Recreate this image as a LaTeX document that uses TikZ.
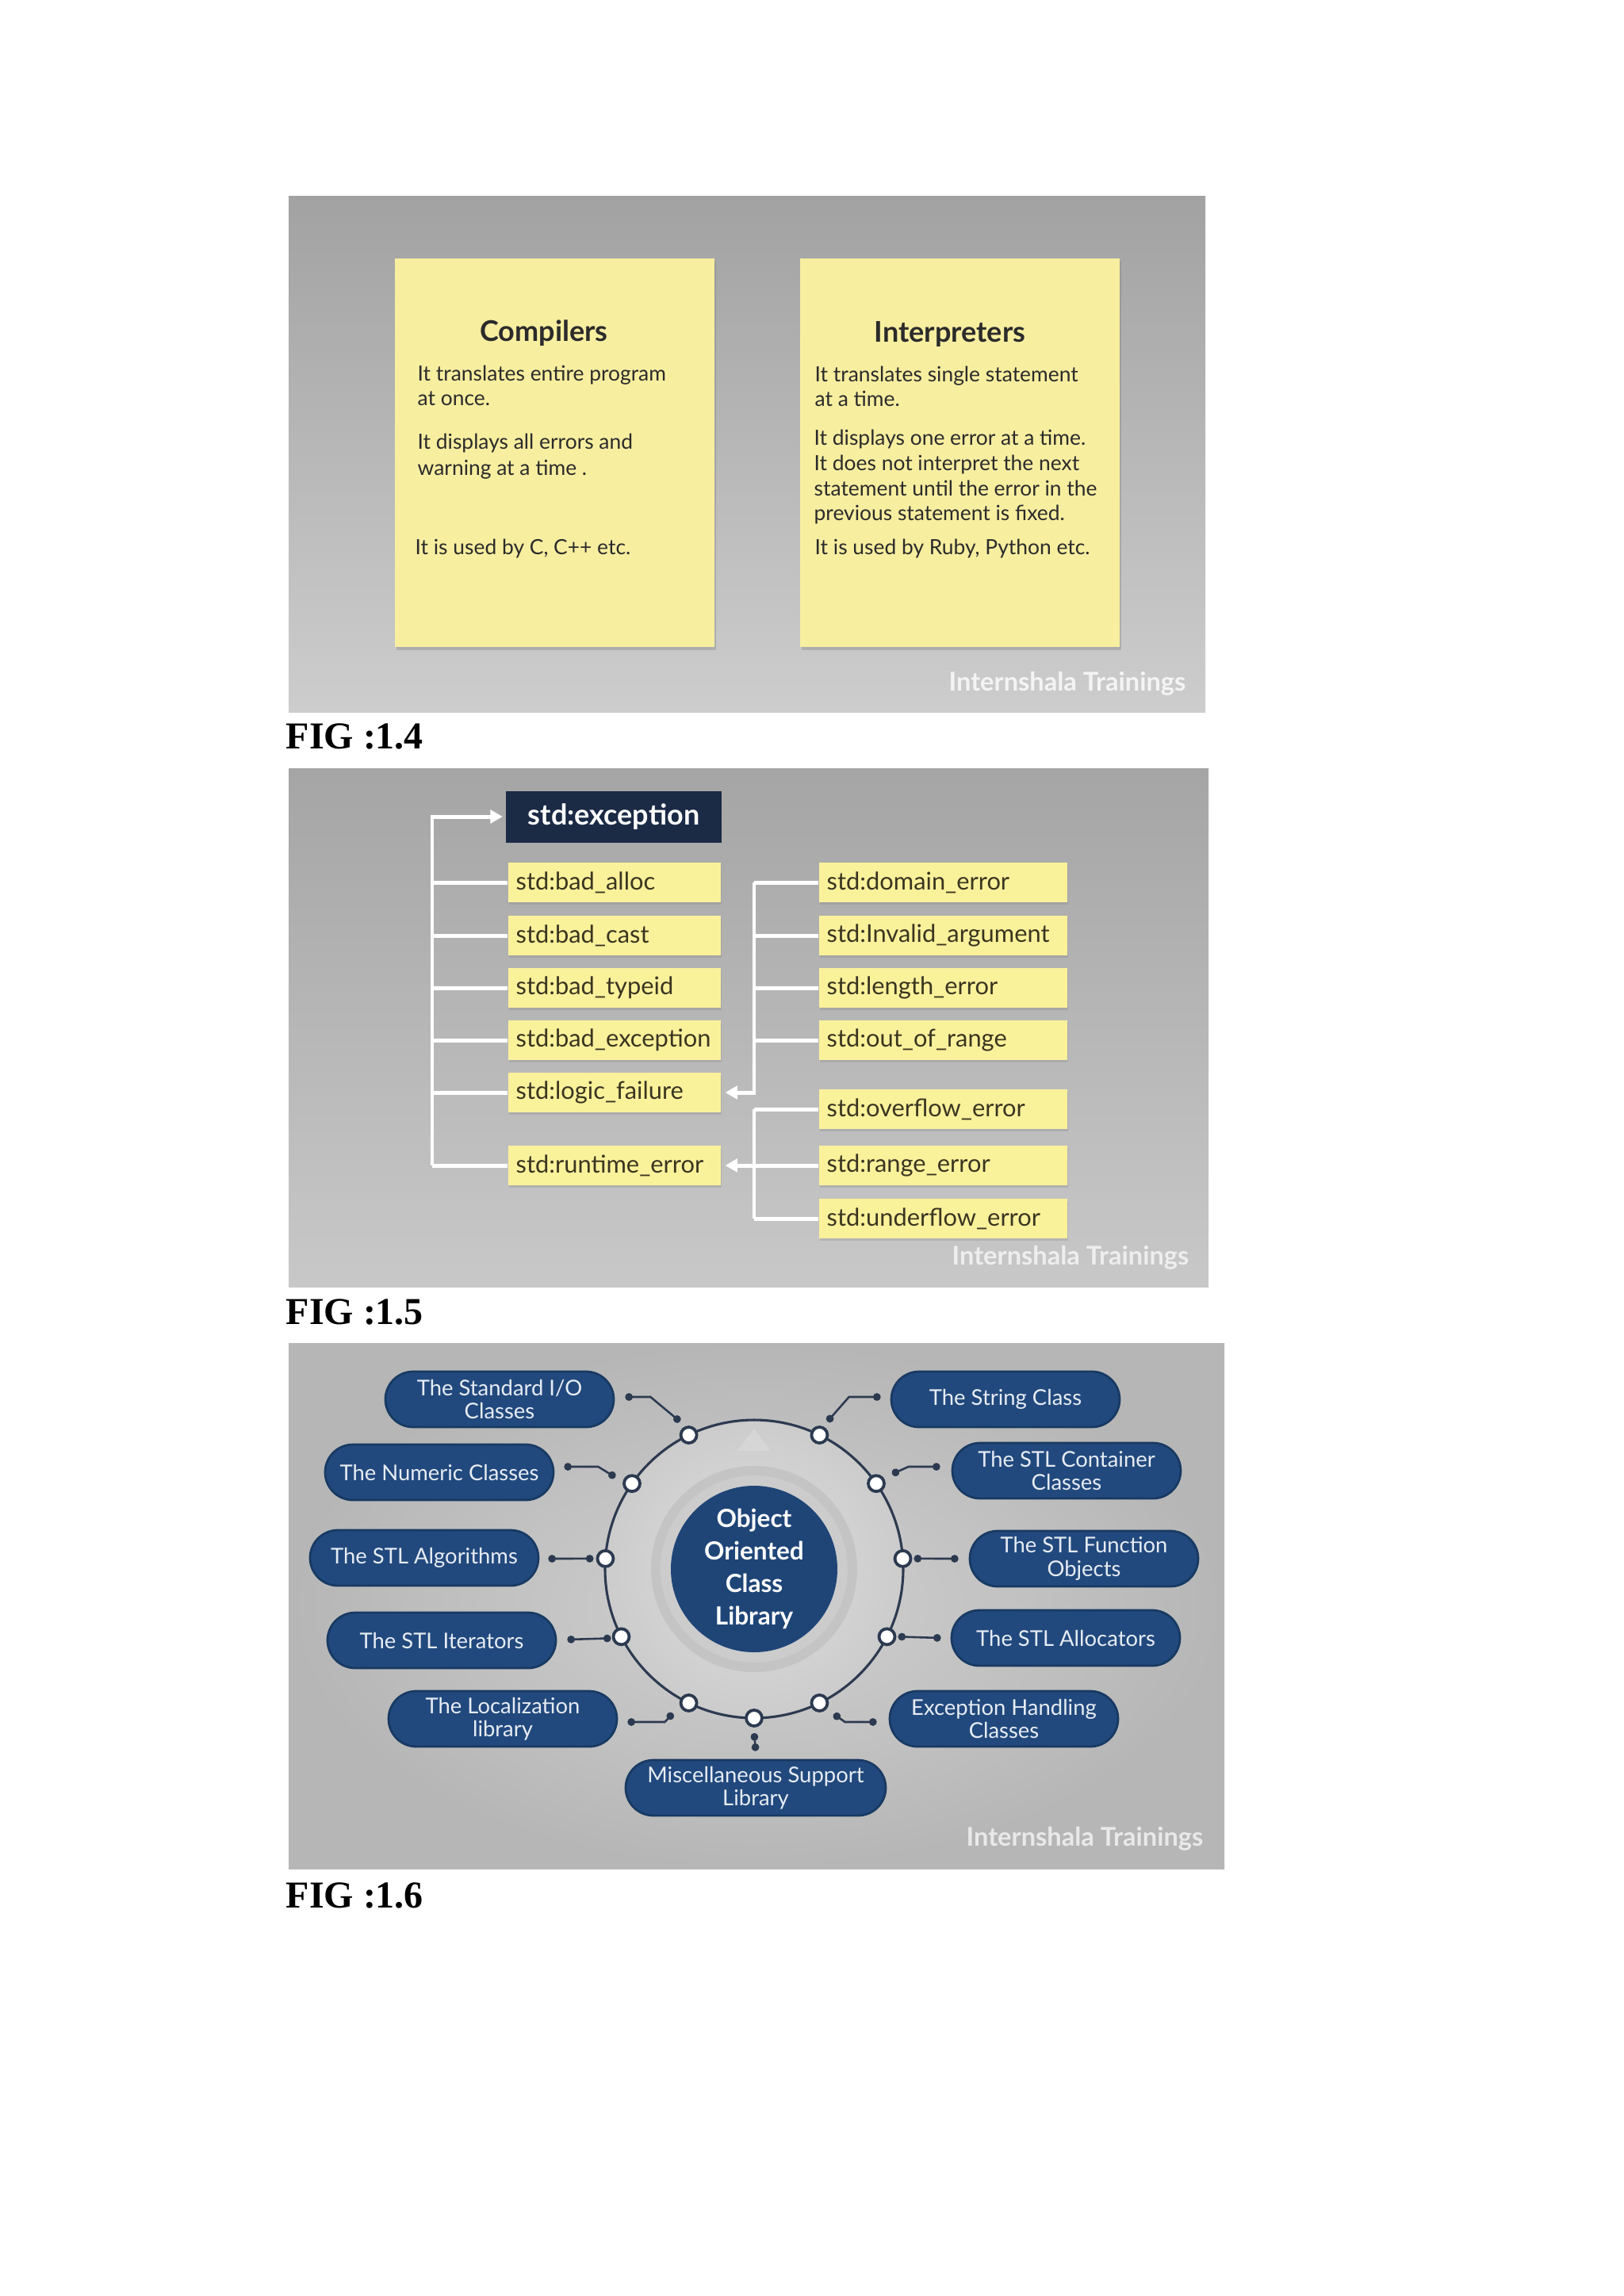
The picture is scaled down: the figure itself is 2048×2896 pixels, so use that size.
\documentclass[tikz,border=0pt]{standalone}
\usepackage{fontspec}
\setmainfont{Lato}
\newfontfamily\figfont{Liberation Serif}
\usetikzlibrary{shadows,arrows.meta,calc,shapes.misc}
\newdimen\uu \uu=0.010254cm
\definecolor{pAtop}{HTML}{A2A2A2}
\definecolor{pAbot}{HTML}{CDCDCD}
\definecolor{pBtop}{HTML}{A5A5A5}
\definecolor{pBbot}{HTML}{C8C8C8}
\definecolor{pCin}{HTML}{D0D0D0}
\definecolor{pCout}{HTML}{B6B6B6}
\definecolor{cardY}{HTML}{F7EEA0}
\definecolor{boxY}{HTML}{FAF19B}
\definecolor{navy}{HTML}{1B2A45}
\definecolor{pillC}{HTML}{22497D}
\definecolor{pillB}{HTML}{183A63}
\definecolor{ringC}{HTML}{2C3A50}
\definecolor{coreC}{HTML}{1F4577}
\definecolor{txtA}{HTML}{2B2B2B}
\definecolor{txtB}{HTML}{3A3520}
\definecolor{pillT}{HTML}{E6ECF4}
\begin{document}
\begin{tikzpicture}[x=0.010254cm,y=-0.010254cm,
  card/.style={fill=cardY, inner sep=0, anchor=north west,
    drop shadow={opacity=0.35,shadow xshift=0.8pt,shadow yshift=-1.2pt}},
  ttl/.style={text=txtA, font=\fontsize{10.5pt}{12pt}\selectfont\bfseries},
  bline/.style={text=txtA, anchor=base west, inner sep=0, font=\fontsize{7.7pt}{9pt}\selectfont},
  wmark/.style={text=white, opacity=0.8, anchor=east, inner sep=0, font=\fontsize{9.5pt}{11pt}\selectfont\bfseries},
  figlab/.style={anchor=west, inner sep=0, font=\figfont\bfseries\fontsize{14pt}{16pt}\selectfont},
  excbox/.style={fill=navy, text=white, minimum width=272*\uu, minimum height=65*\uu, inner sep=0,
    font=\fontsize{10.5pt}{12pt}\selectfont\bfseries},
  ybox/.style={fill=boxY, text=txtB, anchor=west, minimum height=50*\uu, inner ysep=0,
    inner xsep=10*\uu, text width=(#1-20)*\uu, align=left,
    font=\fontsize{9pt}{11pt}\selectfont,
    drop shadow={opacity=0.25,shadow xshift=0.4pt,shadow yshift=-0.8pt}},
  wline/.style={draw=white, line width=1.45pt},
  wtip/.style={-{Triangle[length=4.5pt,width=4.8pt]}},
  pill/.style={rounded rectangle, fill=pillC, draw=pillB, line width=0.8pt, text=pillT,
    minimum width=#1*\uu, minimum height=70*\uu, inner sep=0, align=center,
    font=\fontsize{8pt}{8.6pt}\selectfont},
  pill/.default=288,
  rnode/.style={circle, fill=white, draw=ringC, line width=1.1pt, minimum size=20*\uu, inner sep=0},
  conn/.style={draw=ringC, line width=0.75pt, {Circle[length=2.8pt]}-{Circle[length=2.8pt]}}
]
\useasboundingbox (0,0) rectangle (2048,2896);
\fill[white] (0,0) rectangle (2048,2896);

% ================= FIG 1.4 =================
\shade[top color=pAtop, bottom color=pAbot] (364,247) rectangle (1520,898);
\node[card, minimum width=403*\uu, minimum height=490*\uu] (cardC) at (497,325) {};
\node[card, minimum width=403*\uu, minimum height=490*\uu] (cardI) at (1008,325) {};
\node[ttl] (tC) at (686,420) {Compilers};
\node[ttl] (tI) at (1198,421) {Interpreters};
\node[bline] (c1) at (526,480) {It translates entire program};
\node[bline] (c2) at (526,511) {at once.};
\node[bline] (c3) at (526,566) {It displays all errors and};
\node[bline] (c4) at (526,599) {warning at a time .};
\node[bline] (c5) at (523,699) {It is used by C, C++ etc.};
\node[bline] (i1) at (1027,481) {It translates single statement};
\node[bline] (i2) at (1027,512) {at a time.};
\node[bline] (i3) at (1026,561) {It displays one error at a time.};
\node[bline] (i4) at (1026,593) {It does not interpret the next};
\node[bline] (i5) at (1026,625) {statement until the error in the};
\node[bline] (i6) at (1026,656) {previous statement is fixed.};
\node[bline] (i7) at (1027,699) {It is used by Ruby, Python etc.};
\node[wmark] (wA) at (1496,862) {Internshala Trainings};
\node[figlab] (fA) at (360,929) {FIG :1.4};

% ================= FIG 1.5 =================
\shade[top color=pBtop, bottom color=pBbot] (364,969) rectangle (1524,1623);
\node[excbox] (exc) at (774,1030) {std:exception};
\node[ybox=268] (alloc) at (640,1113) {std:bad\_alloc};
\node[ybox=268] (cast) at (640,1180) {std:bad\_cast};
\node[ybox=268] (typeid) at (640,1246) {std:bad\_typeid};
\node[ybox=268] (badexc) at (640,1312) {std:bad\_exception};
\node[ybox=268] (logic) at (640,1378) {std:logic\_failure};
\node[ybox=268] (runtime) at (640,1470) {std:runtime\_error};
\node[ybox=313] (domain) at (1032,1113) {std:domain\_error};
\node[ybox=313] (invalid) at (1032,1180) {std:Invalid\_argument};
\node[ybox=313] (length) at (1032,1246) {std:length\_error};
\node[ybox=313] (outrange) at (1032,1312) {std:out\_of\_range};
\node[ybox=313] (overflow) at (1032,1399) {std:overflow\_error};
\node[ybox=313] (range) at (1032,1470) {std:range\_error};
\node[ybox=313] (underflow) at (1032,1537) {std:underflow\_error};
\coordinate (lb) at (545,0);
\coordinate (rb) at (951,0);
% left bus
\draw[wline,wtip] (lb |- runtime.west) -- (lb |- exc.west) -- ([xshift=-1pt]exc.west);
\foreach \n in {alloc,cast,typeid,badexc,logic,runtime}
  \draw[wline] (lb |- \n.west) -- (\n.west);
% upper right bus
\draw[wline,wtip] (rb |- domain.west) -- (rb |- logic.east) -- ([xshift=1.5pt]logic.east);
\foreach \n in {domain,invalid,length,outrange}
  \draw[wline] (rb |- \n.west) -- (\n.west);
% lower right bus
\draw[wline] (rb |- overflow.west) -- (rb |- underflow.west);
\foreach \n in {overflow,underflow}
  \draw[wline] (rb |- \n.west) -- (\n.west);
\draw[wline,wtip] (range.west) -- ([xshift=1.5pt]runtime.east);
\node[wmark, opacity=0.7] (wB) at (1500,1586) {Internshala Trainings};
\node[figlab] (fB) at (360,1655) {FIG :1.5};

% ================= FIG 1.6 =================
\shade[inner color=pCin, outer color=pCout] (364,1694) rectangle (1544,2357);
\coordinate (c) at (951,1979);
\shade[inner color=white!87!black, outer color=white!80!black] (c) circle (186);
\fill[white!77!black] (c) circle (130);
\fill[white!80!black] (c) circle (118);
\fill[white!84!black] (951,1802) -- (972,1830) -- (930,1830) -- cycle;
\draw[ringC, line width=0.9pt] (c) circle (188);
\node[circle, fill=coreC, minimum size=210*\uu, inner sep=0, text=white, align=center,
  font=\fontsize{9.2pt}{12pt}\selectfont\bfseries] (core) at (c) {Object\\Oriented\\Class\\Library};
% ring nodes
\node[rnode] (r1) at ($(c)+(-116:188)$) {};
\node[rnode] (r2) at ($(c)+(-145:188)$) {};
\node[rnode] (r3) at ($(c)+(-176:188)$) {};
\node[rnode] (r4) at ($(c)+(153:188)$) {};
\node[rnode] (r5) at ($(c)+(116:188)$) {};
\node[rnode] (r6) at ($(c)+(90:188)$) {};
\node[rnode] (r7) at ($(c)+(-64:188)$) {};
\node[rnode] (r8) at ($(c)+(-35:188)$) {};
\node[rnode] (r9) at ($(c)+(-4:188)$) {};
\node[rnode] (r10) at ($(c)+(27:188)$) {};
\node[rnode] (r11) at ($(c)+(64:188)$) {};
% pills
\node[pill] (sio) at (630,1765) {The Standard I/O\\Classes};
\node[pill] (num) at (554,1857) {The Numeric Classes};
\node[pill] (alg) at (535,1965) {The STL Algorithms};
\node[pill] (itr) at (557,2069) {The STL Iterators};
\node[pill] (loc) at (634,2168) {The Localization\\library};
\node[pill=328] (misc) at (953,2255) {Miscellaneous Support\\Library};
\node[pill] (str) at (1268,1765) {The String Class};
\node[pill] (cont) at (1345,1855) {The STL Container\\Classes};
\node[pill] (func) at (1367,1966) {The STL Function\\Objects};
\node[pill] (allc) at (1344,2066) {The STL Allocators};
\node[pill] (exch) at (1266,2168) {Exception Handling\\Classes};
% connectors
\draw[conn] ($(sio.east)+(13,-3)$) -- ++(32,0) -- ($(r1)+(-11,-17)$);
\draw[conn] ($(num.east)+(12,-7)$) -- ++(43,0) -- ($(r2)+(-21,-8)$);
\draw[conn] ($(alg.east)+(11,1)$) -- ($(r3)+(-15,0)$);
\draw[conn] ($(itr.east)+(13,-1)$) -- ($(r4)+(-13,2)$);
\draw[conn] ($(loc.east)+(12,4)$) -- ++(47,0) -- ($(r5)+(-20,13)$);
\draw[conn] ($(misc.north)+(0,-10)$) -- ($(r6)+(0,19)$);
\draw[conn] ($(str.west)+(-12,-3)$) -- ++(-40,0) -- ($(r7)+(10,-17)$);
\draw[conn] ($(cont.west)+(-14,-5)$) -- ++(-40,0) -- ($(r8)+(20,-12)$);
\draw[conn] ($(func.west)+(-13,0)$) -- ($(r9)+(14,0)$);
\draw[conn] ($(allc.west)+(-12,0)$) -- ($(r10)+(14,0)$);
\draw[conn] ($(exch.west)+(-15,4)$) -- ++(-40,0) -- ($(r11)+(18,14)$);
\node[wmark, opacity=0.7] (wC) at (1518,2319) {Internshala Trainings};
\node[figlab] (fC) at (360,2391) {FIG :1.6};
\end{tikzpicture}
\end{document}
